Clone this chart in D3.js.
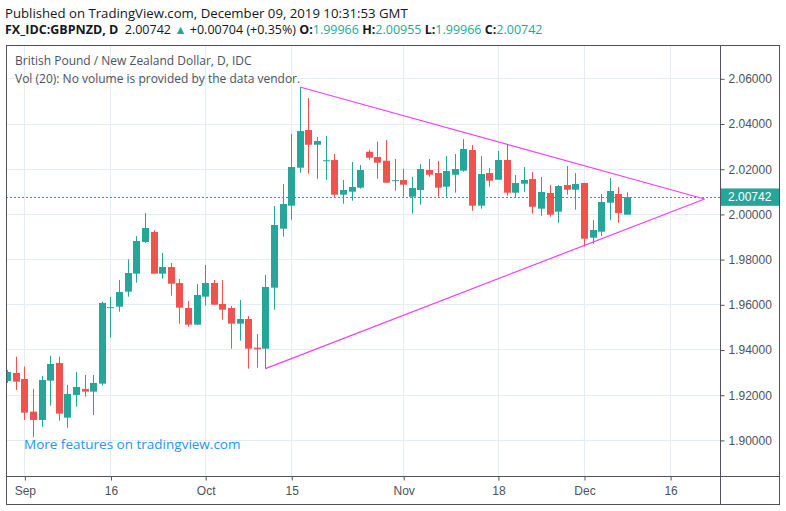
<!DOCTYPE html>
<html><head><meta charset="utf-8">
<script src="https://cdn.jsdelivr.net/npm/d3@7"></script>
<style>body{margin:0;background:#fff}svg{display:block}</style>
</head><body>
<svg id="c" width="786" height="511"></svg>
<script>
// ---------- DATA ----------
const dates=["2019-08-29","2019-08-30","2019-09-02","2019-09-03","2019-09-04","2019-09-05","2019-09-06","2019-09-09","2019-09-10","2019-09-11","2019-09-12","2019-09-13","2019-09-16","2019-09-17","2019-09-18","2019-09-19","2019-09-20","2019-09-23","2019-09-24","2019-09-25","2019-09-26","2019-09-27","2019-09-30","2019-10-01","2019-10-02","2019-10-03","2019-10-04","2019-10-07","2019-10-08","2019-10-09","2019-10-10","2019-10-11","2019-10-14","2019-10-15","2019-10-16","2019-10-17","2019-10-18","2019-10-21","2019-10-22","2019-10-23","2019-10-24","2019-10-25","2019-10-28","2019-10-29","2019-10-30","2019-10-31","2019-11-01","2019-11-04","2019-11-05","2019-11-06","2019-11-07","2019-11-08","2019-11-11","2019-11-12","2019-11-13","2019-11-14","2019-11-15","2019-11-18","2019-11-19","2019-11-20","2019-11-21","2019-11-22","2019-11-25","2019-11-26","2019-11-27","2019-11-28","2019-11-29","2019-12-02","2019-12-03","2019-12-04","2019-12-05","2019-12-06","2019-12-09"];
const open=[1.92608,1.92962,1.92697,1.91250,1.90883,1.92621,1.93404,1.90985,1.91989,1.92254,1.92135,1.92489,1.95860,1.95895,1.96558,1.97355,1.98757,1.99199,1.97355,1.97651,1.96943,1.95837,1.95099,1.96337,1.96943,1.96014,1.95837,1.95143,1.95351,1.94081,1.94037,1.96735,1.99345,2.00363,2.02044,2.03711,2.03061,2.02360,2.02384,2.00849,2.00982,2.01159,2.02751,2.02517,2.02353,2.01480,2.01500,2.00761,2.01057,2.01942,2.01809,2.01203,2.01734,2.01911,2.02827,2.00363,2.01809,2.01513,2.02384,2.00938,2.01336,2.01544,2.00230,2.00925,2.00097,2.01278,2.01071,2.01367,1.98947,1.99213,2.00495,2.00880,1.99966];
const high=[1.93095,1.93683,1.93241,1.92254,1.92829,1.93727,1.93683,1.92431,1.93006,1.92874,1.92874,1.96116,1.96324,1.97076,1.97992,1.99022,2.00040,1.99288,1.98270,1.97828,1.97120,1.96147,1.96899,1.97740,1.97076,1.97076,1.95926,1.96191,1.95483,1.94687,1.97297,2.00349,2.01323,2.03534,2.05614,2.05127,2.03402,2.03446,2.02650,2.01500,2.02296,2.02163,2.02840,2.03194,2.03269,2.02429,2.01986,2.01632,2.02207,2.02429,2.02340,2.02561,2.02650,2.03313,2.03048,2.02561,2.02030,2.02782,2.03048,2.01721,2.02075,2.01853,2.01632,2.01278,2.01278,2.02119,2.01809,2.01380,1.99730,2.00880,2.01588,2.01190,2.00955];
const low=[1.92520,1.92210,1.90883,1.90118,1.90587,1.91515,1.90852,1.90542,1.91471,1.91914,1.91104,1.92400,1.94524,1.95674,1.96337,1.96957,1.98713,1.97340,1.97134,1.96381,1.95143,1.95010,1.95080,1.95939,1.95970,1.95320,1.94037,1.94391,1.93152,1.93197,1.93152,1.95762,1.98991,1.99743,2.01823,2.01778,2.01557,2.01513,2.00761,2.00451,2.00584,2.01115,2.02398,2.01557,2.01370,2.01026,2.00761,2.00009,2.00407,2.01646,2.00761,2.00761,2.00938,2.01867,2.00142,2.00230,2.01203,2.01500,2.00805,2.00717,2.00982,2.00009,1.99920,1.99876,1.99611,2.00849,2.00186,1.98549,1.98682,1.99022,1.99743,1.99611,1.99966];
const close=[1.93006,1.92577,1.91206,1.90883,1.92652,1.93360,1.91162,1.92033,1.92343,1.92135,1.92520,1.96059,1.95875,1.96545,1.97386,1.98801,1.99376,1.97355,1.97651,1.96912,1.95851,1.95099,1.96412,1.96943,1.95983,1.95762,1.95143,1.95351,1.94037,1.94010,1.96766,1.99509,2.00438,2.02075,2.03667,2.03061,2.03225,2.02375,2.00849,2.01057,2.01190,2.01942,2.02486,2.02265,2.01380,2.01492,2.01292,2.01146,2.01986,2.01734,2.01159,2.01898,2.01986,2.02871,2.00363,2.01765,2.01469,2.02384,2.00938,2.01367,2.01500,2.00318,2.00969,1.99965,2.01234,2.01071,2.01323,1.98903,1.99288,2.00526,2.01013,2.00038,2.00742];
const priceTicks=[1.90,1.92,1.94,1.96,1.98,2.00,2.02,2.04,2.06];
const timeTickDates=["2019-09-02","2019-09-16","2019-10-01","2019-10-15","2019-11-01","2019-11-18","2019-12-02","2019-12-16"];
const timeTickLabels=["Sep","16","Oct","15","Nov","18","Dec","16"];
const upperLine=[{d:"2019-10-16",v:2.05614},{d:"2019-12-20",v:2.00661}];
const lowerLine=[{d:"2019-10-10",v:1.93152},{d:"2019-12-20",v:2.00661}];
const lastPrice=2.00742;

// ---------- LAYOUT ----------
const plotL=6, plotR=720, plotT=45, plotB=476, axisR=779, botB=504;
const UP="#26a69a", DN="#ef5350", GRID="#e6edf2", FRAME="#50535e", TXT="#4c525e";
const svg=d3.select("#c");

// trading calendar (weekdays) for positioning
const cal=[];
for(let t=Date.UTC(2019,7,26); t<=Date.UTC(2019,11,31); t+=864e5){
  const d=new Date(t), wd=d.getUTCDay();
  if(wd>0&&wd<6) cal.push(d.toISOString().slice(0,10));
}
const idx=s=>cal.indexOf(s);
const x=d3.scaleLinear().domain([idx("2019-09-02"),idx("2019-12-02")]).range([24.35,584]);
const y=d3.scaleLinear().domain([1.90,2.06]).range([439.9,78.3]);
const X=s=>x(idx(s));

// header
const hdr=svg.append("g").style("font-family","'Open Sans',sans-serif").attr("fill","#131722");
hdr.append("text").attr("x",5).attr("y",17.5).style("font-size","13.2px").text("Published on TradingView.com, December 09, 2019 10:31:53 GMT");
const l2=hdr.append("text").attr("x",5).attr("y",34).style("font-size","12.5px");
l2.append("tspan").attr("font-weight","bold").text("FX_IDC:GBPNZD, D");
l2.append("tspan").text("\u00a0 2.00742 ");
l2.append("tspan").attr("fill",UP).text("\u25B2");
l2.append("tspan").text(" +0.00704 (+0.35%) ");
[["O:",open[72]],["H:",high[72]],["L:",low[72]],["C:",close[72]]].forEach(([k,v],i)=>{
  l2.append("tspan").attr("font-weight","bold").text((i?" ":"")+k);
  l2.append("tspan").attr("fill",UP).text(d3.format(".5f")(v));
});

// clip
svg.append("clipPath").attr("id","pc").append("rect").attr("x",plotL+0.5).attr("y",plotT).attr("width",plotR-plotL-0.5).attr("height",plotB-plotT);

// grid
const g=svg.append("g").attr("clip-path","url(#pc)");
g.selectAll(".hg").data(priceTicks).join("line").attr("x1",plotL).attr("x2",plotR)
  .attr("y1",d=>Math.round(y(d))+0.5).attr("y2",d=>Math.round(y(d))+0.5).attr("stroke",GRID);
g.selectAll(".vg").data(timeTickDates).join("line").attr("y1",plotT).attr("y2",plotB)
  .attr("x1",d=>Math.round(X(d))+0.5).attr("x2",d=>Math.round(X(d))+0.5).attr("stroke",GRID);

// legend texts
svg.append("text").attr("x",15).attr("y",65).attr("fill",TXT).style("font-family","'Open Sans',sans-serif").style("font-size","12px")
  .text("British Pound / New Zealand Dollar, D, IDC");
svg.append("text").attr("x",15).attr("y",83).attr("fill",TXT).style("font-family","'Open Sans',sans-serif").style("font-size","12px")
  .text("Vol (20): No volume is provided by the data vendor.");

// last price dotted line
g.append("line").attr("x1",plotL).attr("x2",plotR).attr("y1",Math.round(y(lastPrice))+0.5).attr("y2",Math.round(y(lastPrice))+0.5)
  .attr("stroke",UP).attr("stroke-dasharray","2,2");

// candles
const candles=dates.map((d,i)=>({d,o:open[i],h:high[i],l:low[i],c:close[i]}));
const cg=g.selectAll(".cd").data(candles).join("g");
cg.append("line").attr("x1",d=>Math.round(X(d.d))+0.5).attr("x2",d=>Math.round(X(d.d))+0.5)
  .attr("y1",d=>y(d.h)).attr("y2",d=>y(d.l)).attr("stroke",d=>d.c>=d.o?UP:DN).attr("stroke-width",1);
cg.append("rect").attr("x",d=>Math.round(X(d.d))-3).attr("width",7)
  .attr("y",d=>y(Math.max(d.o,d.c))).attr("height",d=>Math.max(1,y(Math.min(d.o,d.c))-y(Math.max(d.o,d.c))))
  .attr("fill",d=>d.c>=d.o?UP:DN);

// triangle lines
const ln=d3.line().x(p=>X(p.d)).y(p=>y(p.v));
[upperLine,lowerLine].forEach(L=>g.append("path").attr("d",ln(L)).attr("fill","none").attr("stroke","#f040f0").attr("stroke-width",1.2));

// watermark
svg.append("text").attr("x",24).attr("y",449).attr("fill","#2196f3").style("font-family","'Open Sans',sans-serif").style("font-size","13.5px")
  .text("More features on tradingview.com");

// frame
const fr=svg.append("g").attr("stroke",FRAME).attr("fill","none");
fr.append("rect").attr("x",plotL+0.5).attr("y",plotT+0.5).attr("width",axisR-plotL).attr("height",botB-plotT);
fr.append("line").attr("x1",plotR+0.5).attr("x2",plotR+0.5).attr("y1",plotT).attr("y2",botB);
fr.append("line").attr("x1",plotL).attr("x2",axisR).attr("y1",plotB+0.5).attr("y2",plotB+0.5);

// price axis
const ya=svg.append("g").attr("transform",`translate(${plotR+0.5},0.5)`)
  .call(d3.axisRight(y).tickValues(priceTicks).tickFormat(d3.format(".5f")).tickSize(4).tickPadding(4));
ya.select(".domain").remove();
ya.selectAll("line").attr("stroke",FRAME);
ya.selectAll("text").attr("fill",TXT).style("font-family","'Liberation Sans',sans-serif").style("font-size","12px");

// time axis
const xa=svg.append("g").attr("transform",`translate(0.5,${plotB+0.5})`)
  .call(d3.axisBottom(x).tickValues(timeTickDates.map(idx)).tickFormat((d,i)=>timeTickLabels[i]).tickSize(4).tickPadding(6));
xa.select(".domain").remove();
xa.selectAll("line").attr("stroke",FRAME);
xa.selectAll("text").attr("fill",TXT).style("font-family","'Liberation Sans',sans-serif").style("font-size","12px");

// last price label
const ly=y(lastPrice);
svg.append("rect").attr("x",plotR+1).attr("y",ly-8.7).attr("width",axisR-plotR-1).attr("height",17.4).attr("fill",UP);
svg.append("text").attr("x",plotR+8).attr("y",ly+4.3).attr("fill","#fff").style("font-family","'Liberation Sans',sans-serif").style("font-size","12px")
  .text(d3.format(".5f")(lastPrice));
</script>
</body></html>
